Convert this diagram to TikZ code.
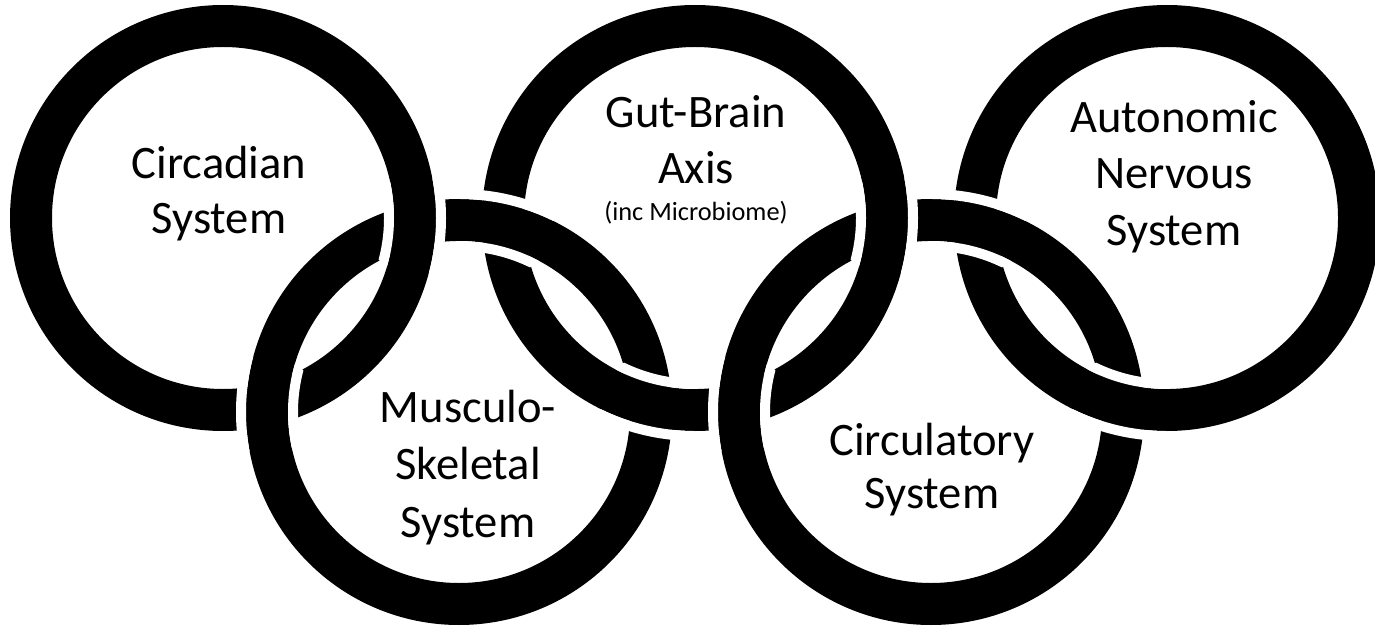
\documentclass[tikz,border=0pt]{standalone}
\usepackage{fontspec}
\setmainfont{Carlito}
\tikzset{ring/.style = {draw, line width = 0.84cm},
         gap/.style = {draw = white, line width = 0.2cm},
         label/.style = {align = center, anchor = base, font = \fontsize{26.5}{31.5}\selectfont},
}

\begin{document}
\begin{tikzpicture}[x = 0.02cm, y = -0.02cm]

  \useasboundingbox (0,0) rectangle (1375,628);

  % ring centres
  \coordinate (circ) at (223,218);
  \coordinate (musc) at (459,412);
  \coordinate (gut)  at (695,218);
  \coordinate (blood) at (931,412);
  \coordinate (auto) at (1167,218);

  % crossings
  \coordinate (x1) at (414.9,225.2);
  \coordinate (x2) at (267.1,404.8);
  \coordinate (x3) at (503.1,225.2);
  \coordinate (x4) at (650.9,404.8);
  \coordinate (x5) at (886.9,225.2);
  \coordinate (x6) at (739.1,404.8);
  \coordinate (x7) at (975.1,225.2);
  \coordinate (x8) at (1122.9,404.8);

  \draw[ring] (circ) circle (192);
  \draw[ring] (musc) circle (192);
  \draw[ring] (gut) circle (192);
  \draw[ring] (blood) circle (192);
  \draw[ring] (auto) circle (192);

  % white gaps where the upper ring passes over
  \begin{scope} \clip (x1) circle (50); \draw[gap] (circ) circle (218) (circ) circle (166); \end{scope}
  \begin{scope} \clip (x2) circle (50); \draw[gap] (musc) circle (218) (musc) circle (166); \end{scope}
  \begin{scope} \clip (x3) circle (50); \draw[gap] (musc) circle (218) (musc) circle (166); \end{scope}
  \begin{scope} \clip (x4) circle (50); \draw[gap] (gut) circle (218) (gut) circle (166); \end{scope}
  \begin{scope} \clip (x5) circle (50); \draw[gap] (gut) circle (218) (gut) circle (166); \end{scope}
  \begin{scope} \clip (x6) circle (50); \draw[gap] (blood) circle (218) (blood) circle (166); \end{scope}
  \begin{scope} \clip (x7) circle (50); \draw[gap] (blood) circle (218) (blood) circle (166); \end{scope}
  \begin{scope} \clip (x8) circle (50); \draw[gap] (auto) circle (218) (auto) circle (166); \end{scope}

  \node[label] (circtext) at (219,234) {Circadian\\System};
  \node[label] (guttext) at (696,220) {Gut-Brain\\Axis\\[-10.5pt]{\fontsize{15}{18}\selectfont (inc Microbiome)}};
  \node[label, font = \fontsize{26.5}{32}\selectfont] (autotext) at (1174,245) {Autonomic\\Nervous\\System};
  \node[label, font = \fontsize{26.5}{32.5}\selectfont] (musctext) at (468,537) {Musculo-\\Skeletal\\System};
  \node[label, font = \fontsize{26.5}{30}\selectfont] (bloodtext) at (932,508) {Circulatory\\System};

\end{tikzpicture}
\end{document}
